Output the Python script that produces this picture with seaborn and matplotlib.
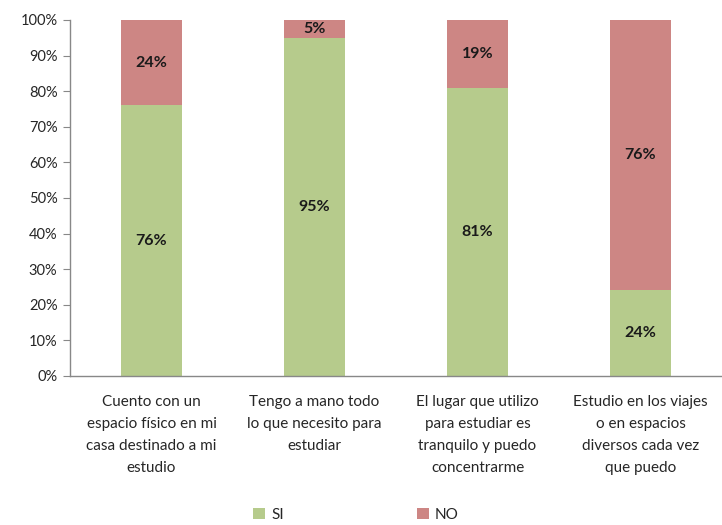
import matplotlib
matplotlib.use('Agg')
import matplotlib.pyplot as plt
import seaborn as sns
import pandas as pd
from matplotlib.patches import Patch

sns.set_style("white")
plt.rcParams['font.family'] = ['Lato', 'DejaVu Sans']

# Data
categories = [
    'Cuento con un\nespacio físico en mi\ncasa destinado a mi\nestudio',
    'Tengo a mano todo\nlo que necesito para\nestudiar',
    'El lugar que utilizo\npara estudiar es\ntranquilo y puedo\nconcentrarme',
    'Estudio en los viajes\no en espacios\ndiversos cada vez\nque puedo',
]
si = [76, 95, 81, 24]
no = [24, 5, 19, 76]

green = '#B6CB8C'
red = '#CD8684'

df = pd.DataFrame({'cat': categories, 'SI': si, 'NO': no})
df['total'] = df['SI'] + df['NO']

fig = plt.figure(figsize=(7.22, 5.25), dpi=100)
ax = fig.add_axes([0.097, 0.284, 0.903, 0.678])

sns.barplot(data=df, x='cat', y='total', color=red, width=0.38, ax=ax,
            saturation=1, edgecolor='none')
sns.barplot(data=df, x='cat', y='SI', color=green, width=0.38, ax=ax,
            saturation=1, edgecolor='none')

# Value labels
for i, (s, n) in enumerate(zip(si, no)):
    ax.text(i, s / 2, f'{s}%', ha='center', va='center', fontsize=11.5,
            fontweight='bold', color='#1a1a1a')
    ax.text(i, s + n / 2, f'{n}%', ha='center', va='center', fontsize=11.5,
            fontweight='bold', color='#1a1a1a')

ax.set_ylim(0, 100)
ax.set_xlim(-0.5, 3.5)
ax.set_yticks(range(0, 101, 10))
ax.set_yticklabels([f'{v}%' for v in range(0, 101, 10)], fontsize=10.5)
ax.set_xticks(range(4))
ax.set_xticklabels(categories, fontsize=11, linespacing=1.72)
ax.set_xticks([-0.5, 0.5, 1.5, 2.5, 3.5], minor=True)
ax.tick_params(axis='x', which='major', length=0, pad=14)
ax.tick_params(axis='x', which='minor', length=5, color='#888888', direction='out')
ax.tick_params(axis='y', length=5, color='#888888', direction='out', left=True, pad=4)
ax.set_xlabel('')
ax.set_ylabel('')

for side in ['top', 'right']:
    ax.spines[side].set_visible(False)
for side in ['left', 'bottom']:
    ax.spines[side].set_color('#888888')
    ax.spines[side].set_linewidth(1)

handles = [Patch(facecolor=green, edgecolor='none', label='SI'),
           Patch(facecolor=red, edgecolor='none', label='NO')]
fig.legend(handles=handles, loc='lower center', ncol=2, frameon=False,
           bbox_to_anchor=(0.493, -0.02), fontsize=11, handlelength=0.8,
           handleheight=0.8, handletextpad=0.4, columnspacing=8.7)

fig.savefig('out.png', dpi=100)
